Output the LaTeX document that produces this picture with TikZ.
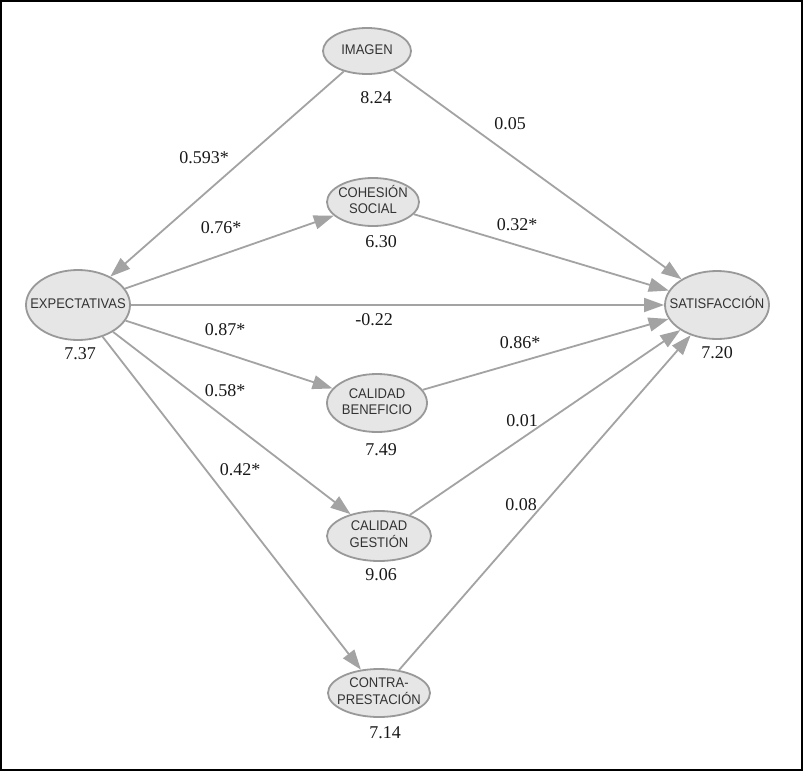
\documentclass[tikz,border=0pt]{standalone}
\usepackage{fontspec}
\setmainfont{Liberation Serif}
\newfontfamily\lblfont[FakeStretch=0.93]{Liberation Sans}
\usetikzlibrary{shapes.geometric,arrows.meta}
\definecolor{edgegray}{HTML}{A3A3A3}
\definecolor{nodefill}{HTML}{E6E6E6}
\definecolor{nodeline}{HTML}{999999}
\definecolor{nodetext}{HTML}{333333}
\newcommand{\zlabel}[1]{\makebox[0pt]{\raisebox{-2pt}{\begin{tabular}{@{}c@{}}#1\end{tabular}}}}
\tikzset{
  latent/.style={ellipse, draw=nodeline, fill=nodefill, line width=1.8pt, inner sep=0pt,
    font=\lblfont\fontsize{14}{16}\selectfont, text=nodetext},
  edge/.style={draw=edgegray, line width=1.8pt, -{Triangle[length=20pt,width=14pt,fill=edgegray]}},
  coef/.style={font=\fontsize{18}{20}\selectfont, text=black!90, inner sep=0pt},
  mean/.style={font=\fontsize{18}{20}\selectfont, text=black!90, inner sep=0pt}
}
\begin{document}
\begin{tikzpicture}[x=1pt,y=-1pt]
\useasboundingbox (0,0) rectangle (803,771);
\fill[white] (0,0) rectangle (803,771);
\draw[black, line width=2pt] (1,1) rectangle (802,770);

\node[latent, minimum width=88pt, minimum height=46pt] (imagen) at (367,51) {\zlabel{IMAGEN}};
\node[latent, minimum width=92pt, minimum height=48pt] (cohesion) at (373,202) {\zlabel{COHESIÓN\\SOCIAL}};
\node[latent, minimum width=104pt, minimum height=70pt] (expect) at (78,305) {\zlabel{EXPECTATIVAS}};
\node[latent, minimum width=104pt, minimum height=68pt] (satis) at (717,305) {\zlabel{SATISFACCIÓN}};
\node[latent, minimum width=100pt, minimum height=58pt] (benef) at (377,403) {\zlabel{CALIDAD\\BENEFICIO}};
\node[latent, minimum width=104pt, minimum height=50pt] (gestion) at (379,536) {\zlabel{CALIDAD\\GESTIÓN}};
\node[latent, minimum width=102pt, minimum height=48pt] (contra) at (379,693) {\zlabel{CONTRA-\\PRESTACIÓN}};

\node[mean] (mimagen) at (376,98) {8.24};
\node[mean] (mcohesion) at (381,242) {6.30};
\node[mean] (mexpect) at (80,354) {7.37};
\node[mean] (msatis) at (717,353) {7.20};
\node[mean] (mbenef) at (381,450) {7.49};
\node[mean] (mgestion) at (381,575) {9.06};
\node[mean] (mcontra) at (385,733) {7.14};

\draw[edge] (imagen) -- (expect);
\draw[edge] (imagen) -- (satis);
\draw[edge] (expect) -- (cohesion);
\draw[edge] (cohesion) -- (satis);
\draw[edge] (expect) -- (satis);
\draw[edge] (expect) -- (benef);
\draw[edge] (benef) -- (satis);
\draw[edge] (expect) -- (gestion);
\draw[edge] (gestion) -- (satis);
\draw[edge] (expect) -- (contra);
\draw[edge] (contra) -- (satis);

\node[coef] (c1) at (204,158) {0.593*};
\node[coef] (c2) at (510,124) {0.05};
\node[coef] (c3) at (221,228) {0.76*};
\node[coef] (c4) at (517,225) {0.32*};
\node[coef] (c5) at (374,320) {-0.22};
\node[coef] (c6) at (225,330) {0.87*};
\node[coef] (c7) at (520,343) {0.86*};
\node[coef] (c8) at (225,391) {0.58*};
\node[coef] (c9) at (522,421) {0.01};
\node[coef] (c10) at (240,470) {0.42*};
\node[coef] (c11) at (521,505) {0.08};
\end{tikzpicture}
\end{document}
